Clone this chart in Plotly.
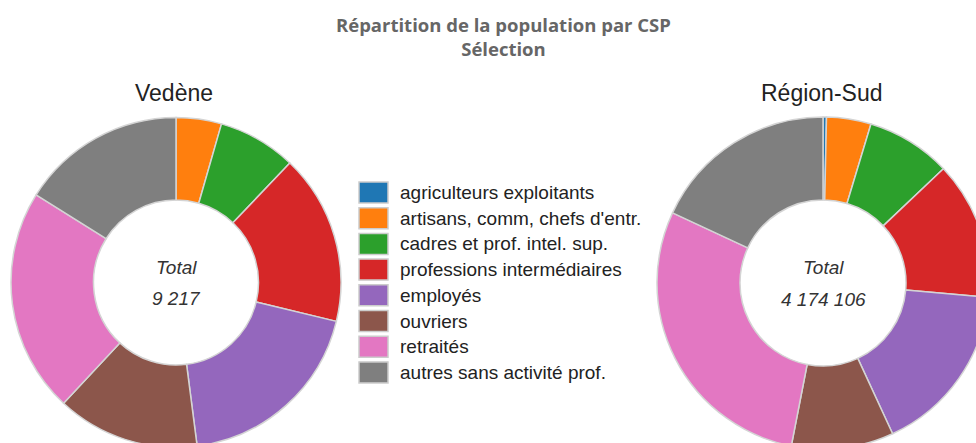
import plotly.graph_objects as go

categories = [
    "agriculteurs exploitants",
    "artisans, comm, chefs d'entr.",
    "cadres et prof. intel. sup.",
    "professions intermédiaires",
    "employés",
    "ouvriers",
    "retraités",
    "autres sans activité prof.",
]
colors = ["#1f77b4", "#ff7f0e", "#2ca02c", "#d62728", "#9467bd", "#8c564b", "#e377c2", "#7f7f7f"]

vedene_values = [0, 410, 707, 1536, 1767, 1288, 2025, 1484]
region_values = [14000, 180800, 344400, 561200, 699200, 415100, 1205900, 753506]

titles = ["Vedène", "Région-Sud"]
main_title = "Répartition de la population par CSP<br>Sélection"

W, H = 1000, 460


def fx(px):
    return px / W


def fy(py):
    return 1 - py / H


def fmt(n):
    return f"{n:,}".replace(",", " ")


# pie geometry (pixels)
pies = [
    dict(cx=176, cy=282.5, r=165, values=vedene_values, title=titles[0]),
    dict(cx=823, cy=283, r=166, values=region_values, title=titles[1]),
]

fig = go.Figure()
annotations = []
shapes = []

center_font = dict(family="Liberation Sans, Arial", size=19, color="#333333")

for p in pies:
    fig.add_trace(go.Pie(
        labels=categories,
        values=p["values"],
        hole=0.5,
        sort=False,
        direction="clockwise",
        rotation=0,
        textinfo="none",
        hoverinfo="label+value+percent",
        marker=dict(colors=colors, line=dict(color="#d4d4d4", width=1.5)),
        domain=dict(x=[fx(p["cx"] - p["r"]), fx(p["cx"] + p["r"])],
                    y=[fy(p["cy"] + p["r"]), fy(p["cy"] - p["r"])]),
        showlegend=False,
    ))
    annotations.append(dict(
        x=fx(p["cx"]), y=fy(p["cy"] - 15.5), xref="paper", yref="paper",
        text="<i>Total</i>", showarrow=False, xanchor="center", yanchor="middle",
        font=center_font,
    ))
    annotations.append(dict(
        x=fx(p["cx"]), y=fy(p["cy"] + 16), xref="paper", yref="paper",
        text="<i>" + fmt(sum(p["values"])) + "</i>", showarrow=False,
        xanchor="center", yanchor="middle", font=center_font,
    ))
    annotations.append(dict(
        x=fx(p["cx"] - 2), y=fy(93), xref="paper", yref="paper",
        text=p["title"], showarrow=False, xanchor="center", yanchor="middle",
        font=dict(family="Liberation Sans, Arial", size=23, color="#222222"),
    ))

annotations.append(dict(
    x=fx(503), y=fy(36), xref="paper", yref="paper",
    text="<b>" + main_title + "</b>", showarrow=False,
    xanchor="center", yanchor="middle",
    font=dict(family="Open Sans", size=18.5, color="#666666"),
))

# custom legend
leg_x0, leg_y0, box_w, box_h, step = 359, 182, 29, 21, 25.7
for i, (cat, col) in enumerate(zip(categories, colors)):
    top = leg_y0 + step * i
    shapes.append(dict(
        type="rect", xref="paper", yref="paper",
        x0=fx(leg_x0), x1=fx(leg_x0 + box_w),
        y0=fy(top + box_h), y1=fy(top),
        fillcolor=col, line=dict(color="#cccccc", width=1.5),
    ))
    annotations.append(dict(
        x=fx(leg_x0 + box_w + 10), y=fy(top + box_h / 2), xref="paper", yref="paper",
        text=cat, showarrow=False, xanchor="left", yanchor="middle",
        font=dict(family="Liberation Sans, Arial", size=19, color="#222222"),
    ))

fig.update_layout(
    width=W, height=H,
    margin=dict(l=0, r=0, t=0, b=0),
    paper_bgcolor="white", plot_bgcolor="white",
    annotations=annotations, shapes=shapes,
    showlegend=False,
)

post = ("document.body.style.margin='0';document.body.style.overflow='hidden';"
        "document.documentElement.style.overflow='hidden';")
fig.write_html("out.html", post_script=post, config={"displayModeBar": False})
